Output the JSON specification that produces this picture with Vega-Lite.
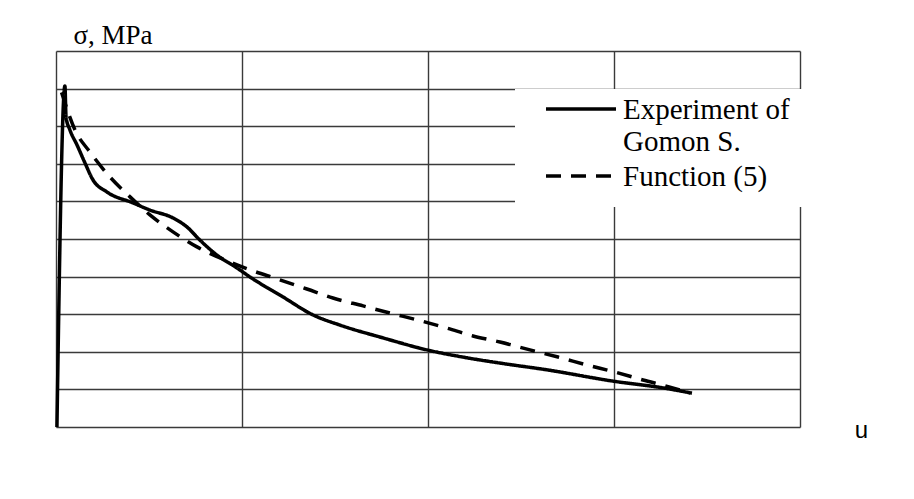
{
  "$schema": "https://vega.github.io/schema/vega-lite/v6.json",
  "width": 744,
  "height": 376,
  "autosize": {"type": "none"},
  "padding": {"left": 56, "top": 51, "right": 114, "bottom": 72},
  "background": "white",
  "config": {
    "view": {"stroke": null},
    "axis": {"gridColor": "#3a3a3a", "gridWidth": 1.4, "gridOpacity": 1, "labels": false, "ticks": false, "domain": false},
    "legend": {
      "orient": "none",
      "legendX": 459,
      "legendY": 38,
      "fillColor": "white",
      "padding": 15,
      "symbolType": "stroke",
      "symbolSize": 4900,
      "symbolStrokeWidth": 3.5,
      "symbolStrokeColor": "black",
      "symbolOffset": 14,
      "labelOffset": 5,
      "labelFont": "Liberation Serif",
      "labelFontSize": 29,
      "labelColor": "black",
      "labelBaseline": "alphabetic",
      "labelLimit": 400,
      "rowPadding": 6,
      "title": null
    }
  },
  "data": {
    "values": [
      {"series": "Experiment of Gomon S.", "u": 0.005, "sigma": 0},
      {"series": "Experiment of Gomon S.", "u": 0.048, "sigma": 9.07},
      {"series": "Experiment of Gomon S.", "u": 0.054, "sigma": 8.24},
      {"series": "Experiment of Gomon S.", "u": 0.075, "sigma": 7.9},
      {"series": "Experiment of Gomon S.", "u": 0.113, "sigma": 7.5},
      {"series": "Experiment of Gomon S.", "u": 0.156, "sigma": 7.02},
      {"series": "Experiment of Gomon S.", "u": 0.199, "sigma": 6.57},
      {"series": "Experiment of Gomon S.", "u": 0.274, "sigma": 6.25},
      {"series": "Experiment of Gomon S.", "u": 0.414, "sigma": 5.96},
      {"series": "Experiment of Gomon S.", "u": 0.505, "sigma": 5.77},
      {"series": "Experiment of Gomon S.", "u": 0.629, "sigma": 5.56},
      {"series": "Experiment of Gomon S.", "u": 0.704, "sigma": 5.32},
      {"series": "Experiment of Gomon S.", "u": 0.774, "sigma": 4.97},
      {"series": "Experiment of Gomon S.", "u": 0.866, "sigma": 4.57},
      {"series": "Experiment of Gomon S.", "u": 0.973, "sigma": 4.23},
      {"series": "Experiment of Gomon S.", "u": 1.043, "sigma": 3.99},
      {"series": "Experiment of Gomon S.", "u": 1.22, "sigma": 3.46},
      {"series": "Experiment of Gomon S.", "u": 1.382, "sigma": 2.98},
      {"series": "Experiment of Gomon S.", "u": 1.527, "sigma": 2.71},
      {"series": "Experiment of Gomon S.", "u": 1.758, "sigma": 2.37},
      {"series": "Experiment of Gomon S.", "u": 1.995, "sigma": 2.05},
      {"series": "Experiment of Gomon S.", "u": 2.21, "sigma": 1.84},
      {"series": "Experiment of Gomon S.", "u": 2.387, "sigma": 1.7},
      {"series": "Experiment of Gomon S.", "u": 2.64, "sigma": 1.52},
      {"series": "Experiment of Gomon S.", "u": 2.995, "sigma": 1.22},
      {"series": "Experiment of Gomon S.", "u": 3.263, "sigma": 1.04},
      {"series": "Experiment of Gomon S.", "u": 3.419, "sigma": 0.9},
      {"series": "Function (5)", "u": 0.03, "sigma": 8.9},
      {"series": "Function (5)", "u": 0.102, "sigma": 7.9},
      {"series": "Function (5)", "u": 0.183, "sigma": 7.31},
      {"series": "Function (5)", "u": 0.29, "sigma": 6.65},
      {"series": "Function (5)", "u": 0.398, "sigma": 6.12},
      {"series": "Function (5)", "u": 0.505, "sigma": 5.64},
      {"series": "Function (5)", "u": 0.629, "sigma": 5.19},
      {"series": "Function (5)", "u": 0.758, "sigma": 4.79},
      {"series": "Function (5)", "u": 0.935, "sigma": 4.39},
      {"series": "Function (5)", "u": 1.043, "sigma": 4.18},
      {"series": "Function (5)", "u": 1.188, "sigma": 3.94},
      {"series": "Function (5)", "u": 1.349, "sigma": 3.67},
      {"series": "Function (5)", "u": 1.489, "sigma": 3.43},
      {"series": "Function (5)", "u": 1.651, "sigma": 3.22},
      {"series": "Function (5)", "u": 1.796, "sigma": 3.03},
      {"series": "Function (5)", "u": 1.941, "sigma": 2.85},
      {"series": "Function (5)", "u": 2.102, "sigma": 2.63},
      {"series": "Function (5)", "u": 2.242, "sigma": 2.42},
      {"series": "Function (5)", "u": 2.387, "sigma": 2.26},
      {"series": "Function (5)", "u": 2.548, "sigma": 2.05},
      {"series": "Function (5)", "u": 2.699, "sigma": 1.86},
      {"series": "Function (5)", "u": 2.855, "sigma": 1.65},
      {"series": "Function (5)", "u": 3.005, "sigma": 1.46},
      {"series": "Function (5)", "u": 3.156, "sigma": 1.25},
      {"series": "Function (5)", "u": 3.301, "sigma": 1.06},
      {"series": "Function (5)", "u": 3.409, "sigma": 0.9}
    ]
  },
  "mark": {"type": "line", "strokeWidth": 3.5, "interpolate": "monotone"},
  "encoding": {
    "x": {
      "field": "u", "type": "quantitative",
      "scale": {"domain": [0, 4], "nice": false, "zero": false},
      "axis": {
        "values": [0, 1, 2, 3, 4], "grid": true,
        "title": "u", "titleFont": "Liberation Sans", "titleFontSize": 24, "titleFontWeight": "normal",
        "titleColor": "black", "titleX": 805, "titleY": 10, "titleAlign": "center", "titleBaseline": "alphabetic", "titleAnchor": null
      }
    },
    "y": {
      "field": "sigma", "type": "quantitative",
      "scale": {"domain": [0, 10], "nice": false},
      "axis": {
        "values": [0, 1, 2, 3, 4, 5, 6, 7, 8, 9, 10], "grid": true,
        "title": "σ, MPa", "titleFont": "Liberation Serif", "titleFontSize": 27, "titleFontWeight": "normal",
        "titleColor": "black", "titleAngle": 0, "titleX": 17, "titleY": -8, "titleAlign": "left", "titleBaseline": "alphabetic", "titleAnchor": null
      }
    },
    "color": {
      "field": "series", "type": "nominal",
      "scale": {"domain": ["Experiment of Gomon S.", "Function (5)"], "range": ["black", "black"]},
      "legend": {
        "labelExpr": "datum.label == 'Experiment of Gomon S.' ? ['Experiment of\u00a0', 'Gomon S.'] : datum.label",
        "encode": {
          "symbols": {"update": {"y": {"value": 5}}},
          "labels": {"update": {"y": {"value": 5}, "dy": {"value": 10}, "lineHeight": {"value": 32}}}
        }
      }
    },
    "strokeDash": {
      "field": "series", "type": "nominal",
      "scale": {"domain": ["Experiment of Gomon S.", "Function (5)"], "range": [[1, 0], [15, 10]]},
      "legend": {
        "labelExpr": "datum.label == 'Experiment of Gomon S.' ? ['Experiment of\u00a0', 'Gomon S.'] : datum.label",
        "encode": {
          "symbols": {"update": {"y": {"value": 5}}},
          "labels": {"update": {"y": {"value": 5}, "dy": {"value": 10}, "lineHeight": {"value": 32}}}
        }
      }
    }
  }
}
